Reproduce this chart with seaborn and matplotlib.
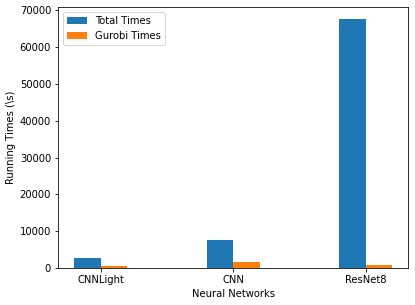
import pandas as pd
import matplotlib
matplotlib.use("Agg")
import matplotlib.pyplot as plt
import seaborn as sns

# ── Data ─────────────────────────────────────────────────────────────────────
networks = ["CNNLight", "CNN", "ResNet8"]
total_times = [2650, 7500, 67500]
gurobi_times = [550, 1600, 900]
series_names = ["Total Times", "Gurobi Times"]

df = pd.DataFrame({
    "network": networks * 2,
    "time": total_times + gurobi_times,
    "series": [series_names[0]] * 3 + [series_names[1]] * 3,
})

# ── Plot ─────────────────────────────────────────────────────────────────────
# keep matplotlib's classic look (black spines, short ticks)
plt.rcParams["font.family"] = ["DejaVu Sans"]

fig, ax = plt.subplots(figsize=(415 / 72, 305 / 72), dpi=72)
fig.subplots_adjust(left=0.14, right=0.983, bottom=0.121, top=0.977)

sns.barplot(data=df, x="network", y="time", hue="series", order=networks,
            hue_order=series_names, palette=["#1f77b4", "#ff7f0e"],
            saturation=1, width=0.4, linewidth=0, ax=ax)

ax.set_xlim(-0.32, 2.32)
ax.set_ylim(0, 70875)
ax.set_xlabel("Neural Networks", fontsize=10)
ax.set_ylabel("Running Times (\\s)", fontsize=10)
ax.tick_params(labelsize=10)
ax.legend(loc="upper left", fontsize=10)

plt.savefig("out.png", dpi=72)
